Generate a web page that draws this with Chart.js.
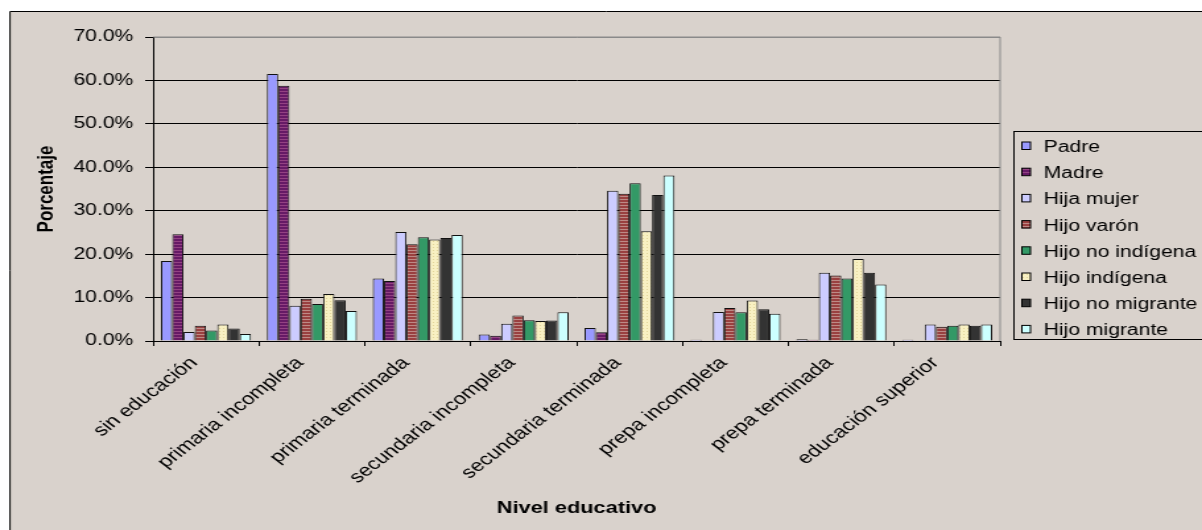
<!DOCTYPE html>
<html>
<head>
<meta charset="utf-8">
<script src="https://cdn.jsdelivr.net/npm/chart.js@4.4.1/dist/chart.umd.min.js"></script>
<style>
  html, body { margin: 0; padding: 0; background: #fff; overflow: hidden; }
  /* the original picture is stretched sideways, so draw narrow and stretch */
  #chart { display: block; width: 1202px; height: 530px; }
</style>
</head>
<body>
<canvas id="chart" width="911" height="530" style="width:1202px;height:530px"></canvas>
<script>
const categories = ['sin educación', 'primaria incompleta', 'primaria terminada', 'secundaria incompleta',
  'secundaria terminada', 'prepa incompleta', 'prepa terminada', 'educación superior'];

const seriesNames = ['Padre', 'Madre', 'Hija mujer', 'Hijo varón', 'Hijo no indígena',
  'Hijo indígena', 'Hijo no migrante', 'Hijo migrante'];

const padre          = [18.4, 61.5, 14.4, 1.5,  3.0, 0.3,  0.4, 0.3];
const madre          = [24.6, 58.8, 13.8, 1.2,  2.0, 0.0,  0.3, 0.0];
const hijaMujer      = [ 2.1,  8.1, 25.1, 4.0, 34.6, 6.7, 15.7, 3.8];
const hijoVaron      = [ 3.5,  9.7, 22.3, 5.9, 33.9, 7.6, 15.1, 3.3];
const hijoNoIndigena = [ 2.4,  8.5, 23.9, 4.8, 36.3, 6.6, 14.4, 3.5];
const hijoIndigena   = [ 3.8, 10.8, 23.4, 4.6, 25.3, 9.3, 18.9, 3.8];
const hijoNoMigrante = [ 2.9,  9.4, 23.7, 4.7, 33.6, 7.3, 15.7, 3.5];
const hijoMigrante   = [ 1.6,  6.9, 24.4, 6.6, 38.1, 6.3, 13.0, 3.8];

const yTicks = [0, 10, 20, 30, 40, 50, 60, 70];

const FONT = 'Liberation Sans, Arial, sans-serif';
const BG = '#d9d2cc';

function stripes(base, line) {
  const c = document.createElement('canvas');
  c.width = 4; c.height = 3;
  const g = c.getContext('2d');
  g.fillStyle = base; g.fillRect(0, 0, 4, 3);
  g.fillStyle = line; g.fillRect(0, 1, 4, 1);
  return g.createPattern(c, 'repeat');
}
function dots(base, dot) {
  const c = document.createElement('canvas');
  c.width = 3; c.height = 3;
  const g = c.getContext('2d');
  g.fillStyle = base; g.fillRect(0, 0, 3, 3);
  g.fillStyle = dot; g.fillRect(1, 1, 1, 1);
  return g.createPattern(c, 'repeat');
}

const fills = [
  '#9999ff',
  stripes('#661a66', '#944283'),
  '#ccccff',
  stripes('#9a4040', '#bd8a86'),
  '#339966',
  dots('#f8f0c2', '#e2d59a'),
  '#333333',
  '#ccffff'
];

const seriesData = [padre, madre, hijaMujer, hijoVaron, hijoNoIndigena, hijoIndigena, hijoNoMigrante, hijoMigrante];

const frame = {
  id: 'frame',
  beforeDraw(chart) {
    const { ctx, width, height } = chart;
    ctx.save();
    ctx.fillStyle = '#fff';
    ctx.fillRect(0, 0, width, height);
    ctx.fillStyle = BG;
    ctx.fillRect(7.6, 12, width, height);
    ctx.strokeStyle = '#000';
    ctx.lineWidth = 1;
    ctx.beginPath();
    ctx.moveTo(7.6, height); ctx.lineTo(7.6, 11.5); ctx.lineTo(width, 11.5);
    ctx.stroke();
    ctx.restore();
  },
  beforeDatasetsDraw(chart) {
    const { ctx, chartArea: a } = chart;
    ctx.save();
    ctx.strokeStyle = '#8a8a8a';
    ctx.lineWidth = 1;
    ctx.beginPath();
    ctx.moveTo(a.left, a.top); ctx.lineTo(a.right, a.top); ctx.lineTo(a.right, a.bottom);
    ctx.stroke();
    ctx.restore();
  }
};

const boxLegend = {
  id: 'boxLegend',
  afterDraw(chart) {
    const { ctx } = chart;
    ctx.save();
    ctx.strokeStyle = '#000';
    ctx.lineWidth = 1;
    ctx.strokeRect(768.5, 131.5, 200, 208);
    ctx.font = '16px ' + FONT;
    ctx.textBaseline = 'middle';
    chart.data.datasets.forEach((ds, i) => {
      const y = 146 + i * 26.2;
      ctx.fillStyle = ds.backgroundColor;
      ctx.fillRect(774.5, y - 4, 6.5, 7.5);
      ctx.strokeStyle = '#000';
      ctx.strokeRect(774.5, y - 4, 6.5, 7.5);
      ctx.fillStyle = '#000';
      ctx.fillText(ds.label, 791, y + 1.5);
    });
    ctx.restore();
  }
};

new Chart(document.getElementById('chart'), {
  type: 'bar',
  data: {
    labels: categories,
    datasets: seriesNames.map((name, i) => ({
      label: name,
      data: seriesData[i],
      backgroundColor: fills[i],
      borderColor: '#111',
      borderWidth: 1,
      categoryPercentage: 0.85,
      barPercentage: 1
    }))
  },
  options: {
    responsive: false,
    animation: false,
    devicePixelRatio: 1,
    layout: { padding: { left: 25, right: 153, top: 37, bottom: 12 } },
    plugins: { legend: { display: false }, tooltip: { enabled: false } },
    scales: {
      x: {
        afterFit: s => { s.height = 177; },
        grid: { drawOnChartArea: false, drawTicks: true, tickLength: 5, color: '#000', offset: true },
        border: { display: true, color: '#000', width: 1 },
        ticks: { color: '#000', font: { family: FONT, size: 17 }, minRotation: 45, maxRotation: 45, autoSkip: false, padding: 7, labelOffset: -9 },
        title: { display: true, text: 'Nivel educativo', color: '#000', font: { family: FONT, size: 16.5, weight: 'bold' }, padding: 0 }
      },
      y: {
        min: 0, max: 70,
        afterFit: s => { s.width = 91; },
        afterBuildTicks: s => { s.ticks = yTicks.map(v => ({ value: v })); },
        grid: { color: c => (c.tick && c.tick.value === 70 ? '#8a8a8a' : '#000'), tickColor: '#000', tickLength: 6 },
        border: { display: true, color: '#000', width: 1 },
        ticks: { color: '#000', font: { family: FONT, size: 16 }, padding: 9, callback: v => v.toFixed(1) + '%' },
        title: { display: true, text: 'Porcentaje', color: '#000', font: { family: FONT, size: 17, weight: 'bold' }, padding: 0 }
      }
    }
  },
  plugins: [frame, boxLegend]
});
</script>
</body>
</html>
